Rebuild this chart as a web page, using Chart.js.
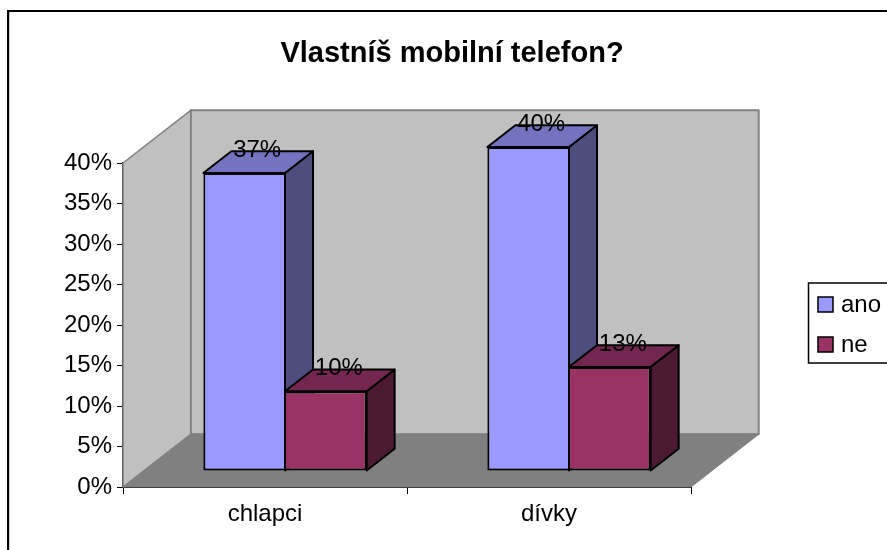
<!DOCTYPE html>
<html><head><meta charset="utf-8">
<script src="https://cdn.jsdelivr.net/npm/chart.js@4"></script>
<style>html,body{margin:0;padding:0;background:#fff}canvas{display:block}</style>
</head><body><canvas id="c" width="887" height="550"></canvas>
<script>
const categories = ["chlapci", "dívky"];
const ano = [36.8, 40];
const ne = [9.85, 12.85];
const seriesNames = ["ano", "ne"];
const chartTitle = "Vlastníš mobilní telefon?";
const FONT = '"Liberation Sans", Arial, sans-serif';
const WALL = {dx: 67.7, dy: -52.7};
const BAR_OFFSET = {dx: 20, dy: -16};
const BAR_DEPTH = {dx: 28, dy: -21.7};
const shades = {
  ano: {front: "#9999FF", top: "#7373BF", side: "#4D4D80"},
  ne: {front: "#993366", top: "#732650", side: "#4D1A33"}
};
function poly(ctx, pts, fill, stroke, lw) {
  ctx.beginPath();
  pts.forEach((p, i) => i ? ctx.lineTo(p[0], p[1]) : ctx.moveTo(p[0], p[1]));
  ctx.closePath();
  if (fill) { ctx.fillStyle = fill; ctx.fill(); }
  if (stroke) { ctx.strokeStyle = stroke; ctx.lineWidth = lw; ctx.lineJoin = "round"; ctx.stroke(); }
}
const scene = {
  id: "scene",
  afterLayout(chart) {
    chart.titleBlock.left = 17;
    chart.titleBlock.right = 887;
  },
  beforeDraw(chart) {
    const {ctx} = chart;
    ctx.save();
    ctx.fillStyle = "#fff"; ctx.fillRect(0, 0, 887, 550);
    ctx.strokeStyle = "#C8C8C8"; ctx.lineWidth = 1;
    ctx.beginPath(); ctx.moveTo(9.5, 12); ctx.lineTo(9.5, 550); ctx.stroke();
    ctx.strokeStyle = "#000"; ctx.lineWidth = 2;
    ctx.strokeRect(8, 11, 900, 560);
    ctx.restore();
  },
  beforeDatasetsDraw(chart) {
    const {ctx, chartArea: a} = chart;
    const d = WALL, g = "#808080";
    ctx.save();
    poly(ctx, [[a.left + d.dx, a.top + d.dy], [a.right + d.dx, a.top + d.dy], [a.right + d.dx, a.bottom + d.dy], [a.left + d.dx, a.bottom + d.dy]], "#C0C0C0", g, 2);
    poly(ctx, [[a.left, a.top], [a.left + d.dx, a.top + d.dy], [a.left + d.dx, a.bottom + d.dy], [a.left, a.bottom]], "#C0C0C0", g, 1.5);
    poly(ctx, [[a.left, a.bottom], [a.right, a.bottom], [a.right + d.dx, a.bottom + d.dy], [a.left + d.dx, a.bottom + d.dy]], "#808080", g, 1);
    // depth faces of every bar, behind all front faces
    const o = BAR_OFFSET, b = BAR_DEPTH;
    ctx.translate(o.dx, o.dy);
    chart.data.datasets.forEach((ds, i) => {
      const s = shades[seriesNames[i]];
      chart.getDatasetMeta(i).data.forEach(el => {
        const r = el.x + el.width / 2, l = el.x - el.width / 2;
        poly(ctx, [[r, el.y], [r + b.dx, el.y + b.dy], [r + b.dx, el.base + b.dy], [r, el.base]], s.side, "#000", 2);
        poly(ctx, [[l, el.y], [l + b.dx, el.y + b.dy], [r + b.dx, el.y + b.dy], [r, el.y]], s.top, "#000", 2);
      });
    });
    ctx.restore();
  },
  beforeDatasetDraw(chart) {
    chart.ctx.save();
    chart.ctx.translate(BAR_OFFSET.dx, BAR_OFFSET.dy);
  },
  afterDatasetDraw(chart) {
    chart.ctx.restore();
  },
  afterDatasetsDraw(chart) {
    const {ctx} = chart;
    ctx.save();
    ctx.font = "24px " + FONT;
    ctx.fillStyle = "#000";
    ctx.textAlign = "center";
    ctx.textBaseline = "middle";
    chart.data.datasets.forEach((ds, i) => {
      chart.getDatasetMeta(i).data.forEach((el, j) => {
        ctx.fillText(Math.round(ds.data[j]) + "%", el.x + BAR_OFFSET.dx + 13, el.y + BAR_OFFSET.dy - 23);
      });
    });
    ctx.restore();
  },
  afterDraw(chart) {
    const {ctx} = chart;
    ctx.save();
    ctx.fillStyle = "#fff"; ctx.fillRect(809, 283, 90, 80);
    ctx.strokeStyle = "#000"; ctx.lineWidth = 1.5;
    ctx.strokeRect(808.5, 283, 90, 80);
    ctx.font = "24px " + FONT;
    ctx.textBaseline = "middle";
    ctx.textAlign = "left";
    seriesNames.forEach((n, i) => {
      const y = 297 + i * 40;
      ctx.fillStyle = shades[n].front;
      ctx.fillRect(818, y, 15, 15);
      ctx.strokeRect(818, y, 15, 15);
      ctx.fillStyle = "#000";
      ctx.fillText(n, 841, y + 8);
    });
    ctx.restore();
  }
};
new Chart(document.getElementById("c"), {
  type: "bar",
  data: {
    labels: categories,
    datasets: [
      {label: seriesNames[0], data: ano, backgroundColor: shades.ano.front, borderColor: "#000", borderWidth: {top: 2, left: 2, bottom: 2, right: 1}, borderSkipped: false},
      {label: seriesNames[1], data: ne, backgroundColor: shades.ne.front, borderColor: "#000", borderWidth: {top: 2, left: 1, bottom: 2, right: 2}, borderSkipped: false}
    ]
  },
  options: {
    responsive: false,
    animation: false,
    events: [],
    layout: {padding: {right: 196, left: 0, top: 0, bottom: 0}},
    datasets: {bar: {categoryPercentage: 0.575, barPercentage: 1}},
    plugins: {
      legend: {display: false},
      tooltip: {enabled: false},
      title: {
        display: true, text: chartTitle, color: "#000",
        font: {family: FONT, size: 29, weight: "bold", lineHeight: 1},
        padding: {top: 39, bottom: 95}
      }
    },
    scales: {
      x: {
        grid: {display: true, drawOnChartArea: false, color: "#000", tickLength: 7, tickColor: "#000"},
        border: {display: true, color: "#000", width: 2},
        ticks: {color: "#000", font: {family: FONT, size: 24}, padding: 6, maxRotation: 0},
        afterFit(s) { s.height = 63; }
      },
      y: {
        min: 0, max: 40,
        grid: {display: true, drawOnChartArea: false, color: "#000", tickLength: 6, tickColor: "#000"},
        border: {display: true, color: "#000", width: 2},
        ticks: {stepSize: 5, color: "#000", font: {family: FONT, size: 24}, padding: 5, callback: v => v + "%"},
        afterFit(s) { s.width = 123; }
      }
    }
  },
  plugins: [scene]
});
</script></body></html>
